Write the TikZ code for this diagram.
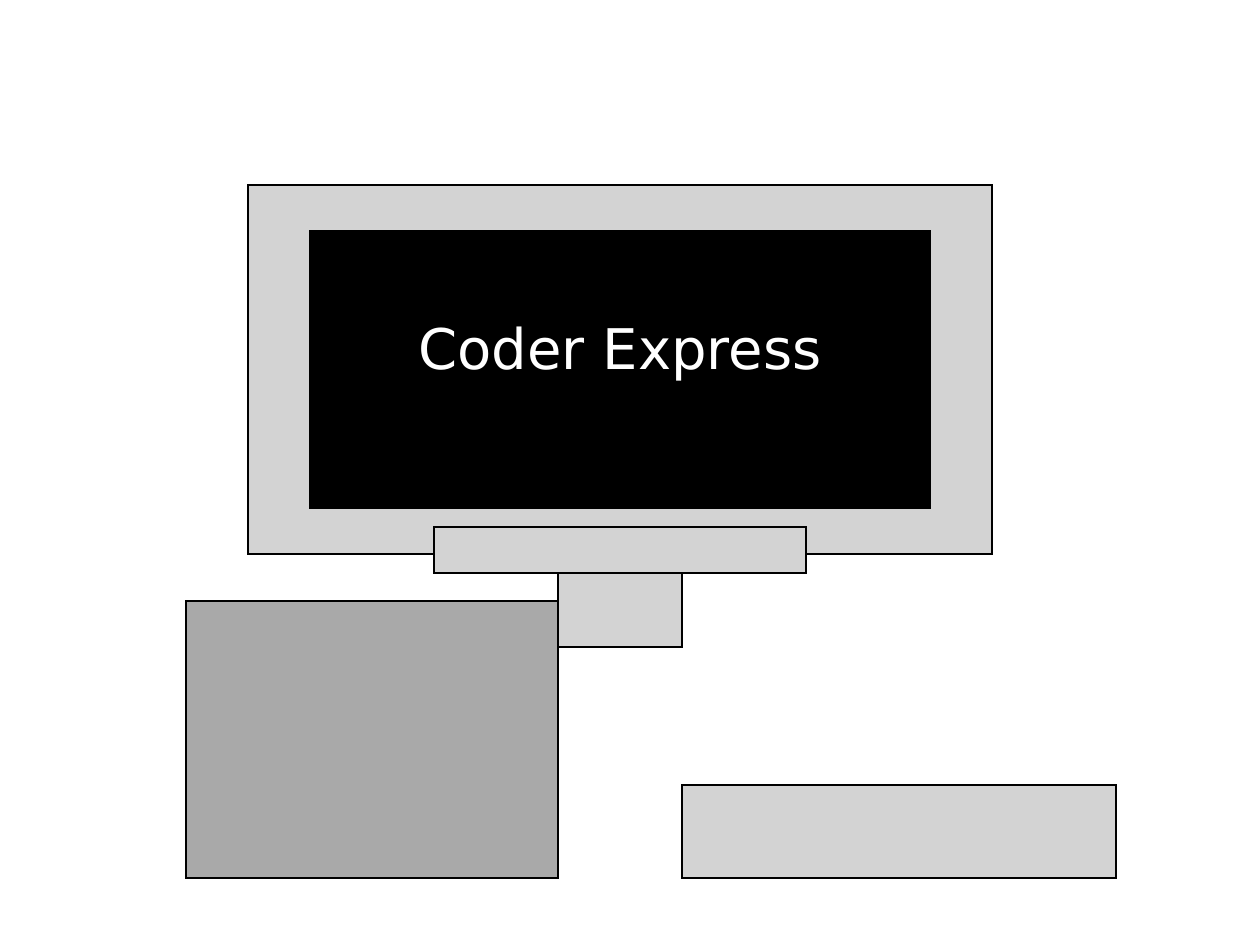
\documentclass[tikz,border=0pt]{standalone}
\usepackage{fontspec}
\setmainfont{DejaVu Sans}
\definecolor{lgray}{HTML}{D3D3D3}
\definecolor{dgray}{HTML}{A9A9A9}
\begin{document}
\begin{tikzpicture}[x=1pt,y=-1pt,
  part/.style={draw=black,line width=2.3pt,fill=lgray},
  darkpart/.style={draw=black,line width=2.3pt,fill=dgray}]
\useasboundingbox (0,0) rectangle (1240,924);
\fill[white] (0,0) rectangle (1240,924);
\draw[part] (248,185) rectangle (992,554);
\fill[black] (309,230) rectangle (931,509);
\node[text=white,font=\fontsize{56}{60}\selectfont,inner sep=0pt] (title) at (620,354) {Coder Express};
\draw[darkpart] (186,601) rectangle (558,878);
\draw[part] (434,527) rectangle (806,573);
\draw[part] (558,573) rectangle (682,647);
\draw[part] (682,785) rectangle (1116,878);
\end{tikzpicture}
\end{document}
